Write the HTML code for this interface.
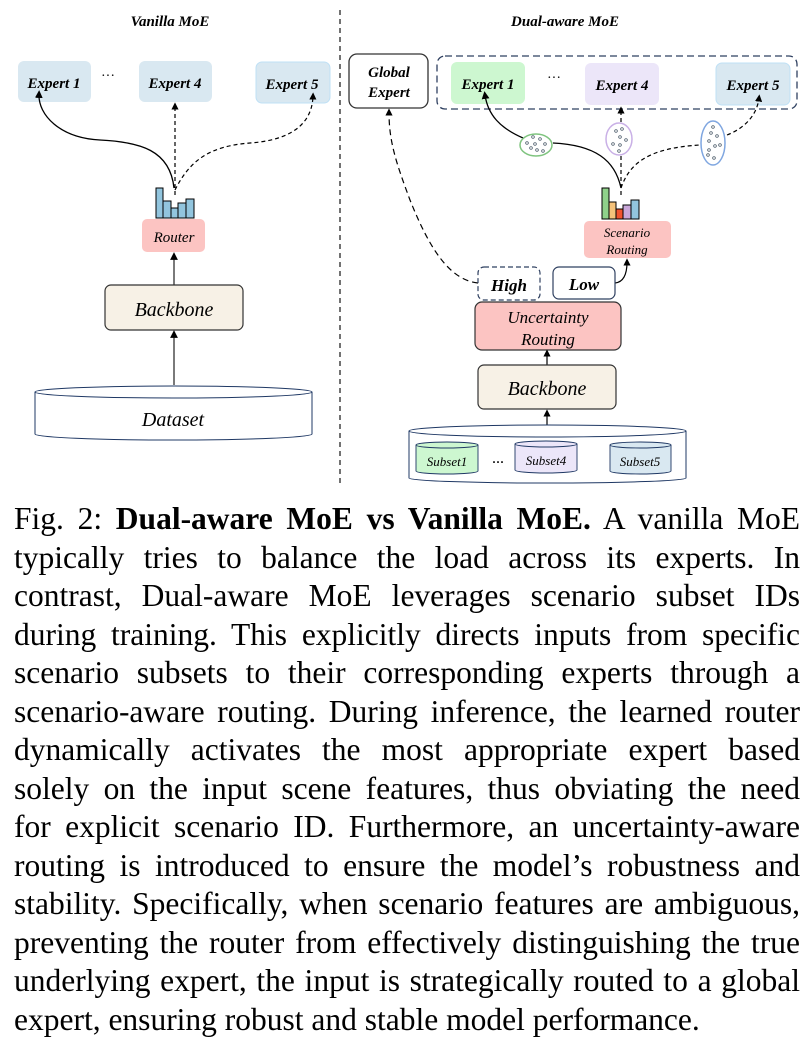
<!DOCTYPE html>
<html><head><meta charset="utf-8"><style>
body{margin:0;width:810px;height:1052px;background:#fff;overflow:hidden;font-family:"Liberation Serif",serif}
svg{position:absolute;left:0;top:0}
#cap{position:absolute;left:14px;top:500px;width:786px;font-size:31.5px;line-height:38.5px;color:#000}
#cap div{white-space:nowrap;text-align:justify;text-align-last:justify;height:38.5px}
#cap div.l{text-align-last:left}
</style></head><body>
<svg width="810" height="485" viewBox="0 0 810 485" font-family="Liberation Serif, serif" font-style="italic">
<defs><marker id="a" markerWidth="6" markerHeight="6" refX="3" refY="3" orient="auto"><path d="M0,0L6,3L0,6z" fill="#000"/></marker></defs>
<text x="170" y="26" font-size="15" font-weight="bold" text-anchor="middle">Vanilla MoE</text>
<text x="565" y="26" font-size="15" font-weight="bold" text-anchor="middle">Dual-aware MoE</text>
<line x1="340" y1="10" x2="340" y2="485" stroke="#444" stroke-width="1.5" stroke-dasharray="5,4"/>
<rect x="18" y="61" width="73" height="41" rx="6" fill="#d9e8f1"/>
<rect x="139" y="61" width="73" height="41" rx="6" fill="#d9e8f1"/>
<rect x="256" y="62" width="74" height="41" rx="6" fill="#d9e8f1" stroke="#bfe0f5"/>
<g font-size="15" font-weight="bold" text-anchor="middle"><text x="54" y="88">Expert 1</text><text x="175" y="88">Expert 4</text><text x="292" y="89">Expert 5</text></g>
<text x="108" y="80" font-size="14" text-anchor="middle" font-style="normal">···</text>
<path d="M174,188 C170,150 140,142 100,140 C60,138 38,115 39,94" fill="none" stroke="#000" stroke-width="1.3" marker-end="url(#a)"/>
<path d="M175,195 L175,106" fill="none" stroke="#000" stroke-width="1.2" stroke-dasharray="4,3" marker-end="url(#a)"/>
<path d="M175,190 C190,160 210,146 250,143 C290,140 312,125 313,96" fill="none" stroke="#000" stroke-width="1.2" stroke-dasharray="4,3" marker-end="url(#a)"/>
<g fill="#92c5de" stroke="#000" stroke-width="1"><rect x="156" y="188" width="7" height="30"/><rect x="163" y="201" width="8" height="17"/><rect x="171" y="208" width="7" height="10"/><rect x="178" y="203" width="8" height="15"/><rect x="186" y="199" width="8" height="19"/></g>
<rect x="142" y="219" width="63" height="33" rx="5" fill="#fcc4c2"/>
<text x="174" y="242" font-size="15" text-anchor="middle">Router</text>
<line x1="174" y1="285" x2="174" y2="256" stroke="#333" stroke-width="1.3" marker-end="url(#a)"/>
<rect x="105" y="285" width="138" height="45" rx="6" fill="#f7f1e6" stroke="#333" stroke-width="1.2"/>
<text x="174" y="316" font-size="20" text-anchor="middle">Backbone</text>
<line x1="174" y1="385" x2="174" y2="334" stroke="#333" stroke-width="1.3" marker-end="url(#a)"/>
<path d="M35,392 V434 A138,6 0 0 0 312,434 V392" fill="#fff" stroke="#1f3864" stroke-width="1"/>
<ellipse cx="173.5" cy="392" rx="138.5" ry="6" fill="#fff" stroke="#1f3864"/>
<text x="173" y="426" font-size="20" text-anchor="middle">Dataset</text>
<rect x="349" y="54" width="79" height="54" rx="8" fill="#fff" stroke="#333" stroke-width="1.3"/>
<text x="389" y="77" font-size="15" font-weight="bold" text-anchor="middle">Global</text>
<text x="389" y="97" font-size="15" font-weight="bold" text-anchor="middle">Expert</text>
<rect x="437" y="56" width="360" height="53" rx="8" fill="none" stroke="#2f4060" stroke-width="1.3" stroke-dasharray="7,4"/>
<rect x="451" y="62" width="74" height="42" rx="6" fill="#cdf7d0"/>
<rect x="585" y="63" width="74" height="42" rx="6" fill="#ece6f9"/>
<rect x="716" y="63" width="74" height="42" rx="6" fill="#d9e8f1" stroke="#bfe0f5"/>
<g font-size="15" font-weight="bold" text-anchor="middle"><text x="488" y="89">Expert 1</text><text x="622" y="90">Expert 4</text><text x="753" y="90">Expert 5</text></g>
<text x="554" y="82" font-size="14" text-anchor="middle" font-style="normal">···</text>
<path d="M621,188 C615,160 595,145 553,143" fill="none" stroke="#000" stroke-width="1.3"/>
<path d="M523,138 C500,128 488,115 485,95" fill="none" stroke="#000" stroke-width="1.3" marker-end="url(#a)"/>
<path d="M621,195 V155 M621,122 V110" fill="none" stroke="#000" stroke-width="1.2" stroke-dasharray="4,3" marker-end="url(#a)"/>
<path d="M621,188 C630,162 650,148 700,145" fill="none" stroke="#000" stroke-width="1.2" stroke-dasharray="4,3"/>
<path d="M727,135 C745,128 757,115 759,98" fill="none" stroke="#000" stroke-width="1.2" stroke-dasharray="4,3" marker-end="url(#a)"/>
<ellipse cx="536" cy="145" rx="16" ry="11" fill="#fff" stroke="#7fc47f" stroke-width="1.5"/>
<ellipse cx="619" cy="139" rx="13" ry="16" fill="#fff" stroke="#c9b0e6" stroke-width="1.5"/>
<ellipse cx="713" cy="143" rx="12" ry="22" fill="#fff" stroke="#7fa6e0" stroke-width="1.5"/>
<g fill="none" stroke="#345" stroke-width="0.7">
<circle cx="527" cy="143" r="1.3"/><circle cx="533" cy="137" r="1.3"/><circle cx="540" cy="139" r="1.3"/><circle cx="545" cy="144" r="1.3"/><circle cx="531" cy="148" r="1.3"/><circle cx="537" cy="150" r="1.3"/><circle cx="543" cy="151" r="1.3"/><circle cx="535" cy="144" r="1.3"/>
<circle cx="616" cy="131" r="1.3"/><circle cx="622" cy="129" r="1.3"/><circle cx="620" cy="137" r="1.3"/><circle cx="613" cy="144" r="1.3"/><circle cx="620" cy="145" r="1.3"/><circle cx="626" cy="140" r="1.3"/><circle cx="619" cy="151" r="1.3"/>
<circle cx="713" cy="127" r="1.3"/><circle cx="711" cy="133" r="1.3"/><circle cx="717" cy="136" r="1.3"/><circle cx="709" cy="141" r="1.3"/><circle cx="715" cy="146" r="1.3"/><circle cx="720" cy="145" r="1.3"/><circle cx="709" cy="150" r="1.3"/><circle cx="714" cy="158" r="1.3"/><circle cx="708" cy="155" r="1.3"/>
</g>
<g stroke="#000" stroke-width="1"><rect x="602" y="188" width="7" height="31" fill="#8fd18a"/><rect x="609" y="202" width="7" height="17" fill="#f5c27a"/><rect x="616" y="209" width="7" height="10" fill="#f0522e"/><rect x="623" y="205" width="8" height="14" fill="#c9a7d9"/><rect x="631" y="200" width="8" height="19" fill="#92c5de"/></g>
<rect x="584" y="221" width="87" height="37" rx="5" fill="#fcc4c2"/>
<text x="627" y="237" font-size="13" text-anchor="middle">Scenario</text>
<text x="627" y="254" font-size="13" text-anchor="middle">Routing</text>
<path d="M615,283 C625,282 627,272 627,262" fill="none" stroke="#000" stroke-width="1.2" marker-end="url(#a)"/>
<path d="M478,283 C450,280 430,250 410,200 C395,160 389,140 389,112" fill="none" stroke="#000" stroke-width="1.2" stroke-dasharray="6,4" marker-end="url(#a)"/>
<rect x="478" y="267" width="62" height="33" rx="6" fill="#fff" stroke="#2f4060" stroke-width="1.2" stroke-dasharray="5,3"/>
<rect x="553" y="267" width="62" height="32" rx="6" fill="#fff" stroke="#2f4060" stroke-width="1.2"/>
<text x="509" y="291" font-size="17" font-weight="bold" text-anchor="middle">High</text>
<text x="584" y="290" font-size="17" font-weight="bold" text-anchor="middle">Low</text>
<rect x="475" y="302" width="146" height="48" rx="7" fill="#fcc4c2" stroke="#333" stroke-width="1.2"/>
<text x="548" y="323" font-size="17" text-anchor="middle">Uncertainty</text>
<text x="548" y="345" font-size="17" text-anchor="middle">Routing</text>
<line x1="547" y1="365" x2="547" y2="353" stroke="#000" stroke-width="1.2" marker-end="url(#a)"/>
<rect x="478" y="365" width="138" height="44" rx="6" fill="#f7f1e6" stroke="#333" stroke-width="1.2"/>
<text x="547" y="395" font-size="20" text-anchor="middle">Backbone</text>
<line x1="547" y1="426" x2="547" y2="413" stroke="#000" stroke-width="1.2" marker-end="url(#a)"/>
<path d="M409,431 V478 A138,5 0 0 0 686,478 V431" fill="#fff" stroke="#1f3864"/>
<ellipse cx="547.5" cy="431" rx="138.5" ry="6" fill="#fff" stroke="#1f3864"/>
<g stroke="#1f3864" stroke-width="0.9">
<path d="M416,445 V471 A31,3 0 0 0 478,471 V445" fill="#cdf7d0"/><ellipse cx="447" cy="445" rx="31" ry="3" fill="#cdf7d0"/>
<path d="M515,444 V470 A31,3 0 0 0 577,470 V444" fill="#ece6f9"/><ellipse cx="546" cy="444" rx="31" ry="3" fill="#ece6f9"/>
<path d="M610,445 V471 A30.5,3 0 0 0 671,471 V445" fill="#d9e8f1"/><ellipse cx="640.5" cy="445" rx="30.5" ry="3" fill="#d9e8f1"/>
</g>
<g font-size="13" text-anchor="middle"><text x="447" y="466">Subset1</text><text x="546" y="465">Subset4</text><text x="640" y="466">Subset5</text></g>
<text x="498" y="466" font-size="12" font-weight="bold" text-anchor="middle" font-style="normal">···</text>
</svg>
<div id="cap">
<div>Fig. 2: <b>Dual-aware MoE vs Vanilla MoE.</b> A vanilla MoE</div>
<div>typically tries to balance the load across its experts. In</div>
<div>contrast, Dual-aware MoE leverages scenario subset IDs</div>
<div>during training. This explicitly directs inputs from specific</div>
<div>scenario subsets to their corresponding experts through a</div>
<div>scenario-aware routing. During inference, the learned router</div>
<div>dynamically activates the most appropriate expert based</div>
<div>solely on the input scene features, thus obviating the need</div>
<div>for explicit scenario ID. Furthermore, an uncertainty-aware</div>
<div>routing is introduced to ensure the model’s robustness and</div>
<div>stability. Specifically, when scenario features are ambiguous,</div>
<div>preventing the router from effectively distinguishing the true</div>
<div>underlying expert, the input is strategically routed to a global</div>
<div class="l">expert, ensuring robust and stable model performance.</div>
</div>
</body></html>
